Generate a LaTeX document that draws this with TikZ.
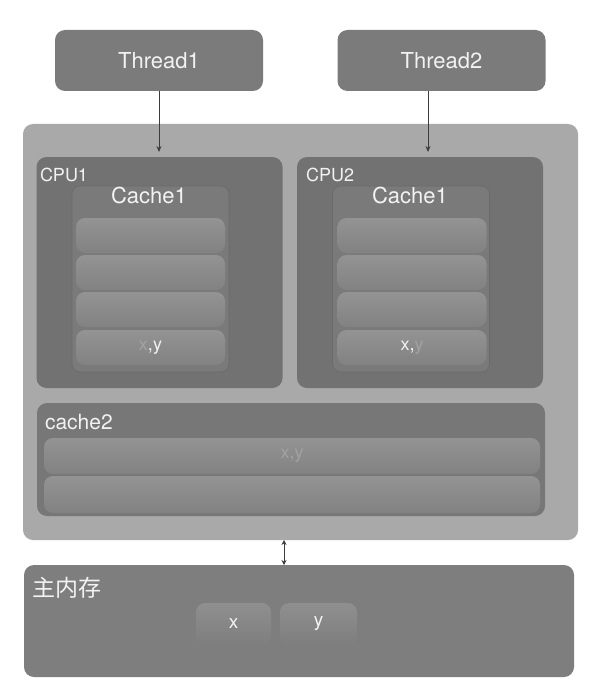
\documentclass[tikz,border=0pt]{standalone}
\usepackage{fontspec}
\setmainfont{TeX Gyre Heros}
\newfontfamily\cjk{Noto Sans CJK SC}
\usetikzlibrary{arrows.meta}
\definecolor{threadgray}{HTML}{7B7B7B}
\definecolor{outergray}{HTML}{A9A9A9}
\definecolor{cpugray}{HTML}{727272}
\definecolor{cachebox}{HTML}{7A7A7A}
\definecolor{cacheedge}{HTML}{6A6A6A}
\definecolor{rowtop}{HTML}{939393}
\definecolor{rowbot}{HTML}{828282}
\definecolor{ctwogray}{HTML}{777777}
\definecolor{memgray}{HTML}{7E7E7E}
\definecolor{celltop}{HTML}{8F8F8F}
\definecolor{txt}{HTML}{F2F2F2}
\definecolor{faint}{HTML}{A2A2A2}
\definecolor{arrowgray}{HTML}{3C3C3C}
\begin{document}
\begin{tikzpicture}[x=1pt,y=-1pt,
  panel/.style={rectangle, rounded corners=10pt, inner sep=0pt, outer sep=0pt, draw=none},
  thread/.style={panel, fill=threadgray, minimum width=208pt, minimum height=61pt,
    text=txt, font=\fontsize{22}{26}\selectfont},
  cpubox/.style={panel, fill=cpugray, minimum width=246pt, minimum height=231pt},
  cachebox/.style={panel, rounded corners=8pt, fill=cachebox, draw=cacheedge, line width=0.6pt,
    minimum width=157pt, minimum height=186pt},
  rowbox/.style={panel, rounded corners=9pt, top color=rowtop, bottom color=rowbot,
    minimum width=149pt, minimum height=35pt, text=txt, font=\fontsize{18}{21}\selectfont},
  lbl/.style={inner sep=0pt, outer sep=0pt, text=txt, anchor=base west},
  cell/.style={panel, rounded corners=9pt, top color=celltop, bottom color=memgray,
    minimum width=76pt, minimum height=42pt, text=txt, font=\fontsize{19}{22}\selectfont},
  conn/.style={draw=arrowgray, line width=0.8pt}
]
\useasboundingbox[fill=white] (0,0) rectangle (597,690);

% threads
\node[thread] (t1) at (159,60.5) {Thread1};
\node[thread] (t2) at (441.5,60.5) {Thread2};

% outer frame
\node[panel, fill=outergray, minimum width=555pt, minimum height=416pt] (outer) at (300.5,332) {};

% CPUs
\node[cpubox] (cpu1) at (159.5,272.5) {};
\node[cpubox] (cpu2) at (420,272.5) {};
\node[lbl, font=\fontsize{18}{21}\selectfont] (cpu1l) at (40,181) {CPU1};
\node[lbl, font=\fontsize{18}{21}\selectfont] (cpu2l) at (306,181) {CPU2};

% cache1 boxes
\node[cachebox] (c1a) at (150.5,279) {};
\node[cachebox] (c1b) at (411,279) {};
\node[inner sep=0pt, text=txt, anchor=base, font=\fontsize{22}{26}\selectfont] (c1al) at (149,203) {Cache1};
\node[inner sep=0pt, text=txt, anchor=base, font=\fontsize{22}{26}\selectfont] (c1bl) at (410,203) {Cache1};

% rows CPU1
\node[rowbox] (ra1) at (150.5,235.5) {};
\node[rowbox] (ra2) at (150.5,272.5) {};
\node[rowbox] (ra3) at (150.5,309.5) {};
\node[rowbox] (ra4) at (150.5,347.5) {\textcolor{faint}{x},y};
% rows CPU2
\node[rowbox] (rb1) at (412,235.5) {};
\node[rowbox] (rb2) at (412,272.5) {};
\node[rowbox] (rb3) at (412,309.5) {};
\node[rowbox] (rb4) at (412,347.5) {x,\textcolor{faint}{y}};

% cache2
\node[panel, fill=ctwogray, minimum width=508pt, minimum height=113pt] (c2) at (291,459.5) {};
\node[lbl, font=\fontsize{21}{24}\selectfont] (c2l) at (45,429) {cache2};
\node[rowbox, minimum width=496pt, minimum height=36pt] (r21) at (292,456) {\textcolor{faint}{x,y}};
\node[rowbox, minimum width=496pt, minimum height=37pt] (r22) at (292,494.5) {};

% main memory
\node[panel, fill=memgray, minimum width=550pt, minimum height=112pt] (mem) at (299,621) {};
\node[lbl, anchor=west, font=\cjk\fontsize{23}{26}\selectfont] (meml) at (32,588) {主内存};
\node[cell, minimum width=75pt] (mx) at (233.5,624) {x};
\node[cell, minimum width=77pt] (my) at (318.5,624) {y};

% connectors
\draw[conn, -{Stealth[length=6pt,width=5pt]}, shorten >=5pt] (t1.south) -- (t1.south |- cpu1.north);
\draw[conn, -{Stealth[length=6pt,width=5pt]}, shorten >=5pt] ([xshift=-13.5pt]t2.south) -- ([xshift=-13.5pt]t2.south |- cpu2.north);
\draw[conn, {Stealth[length=5pt,width=5pt]}-{Stealth[length=5pt,width=5pt]}] ([xshift=-16.5pt]outer.south) -- ([xshift=-16.5pt]outer.south |- mem.north);
\end{tikzpicture}
\end{document}
